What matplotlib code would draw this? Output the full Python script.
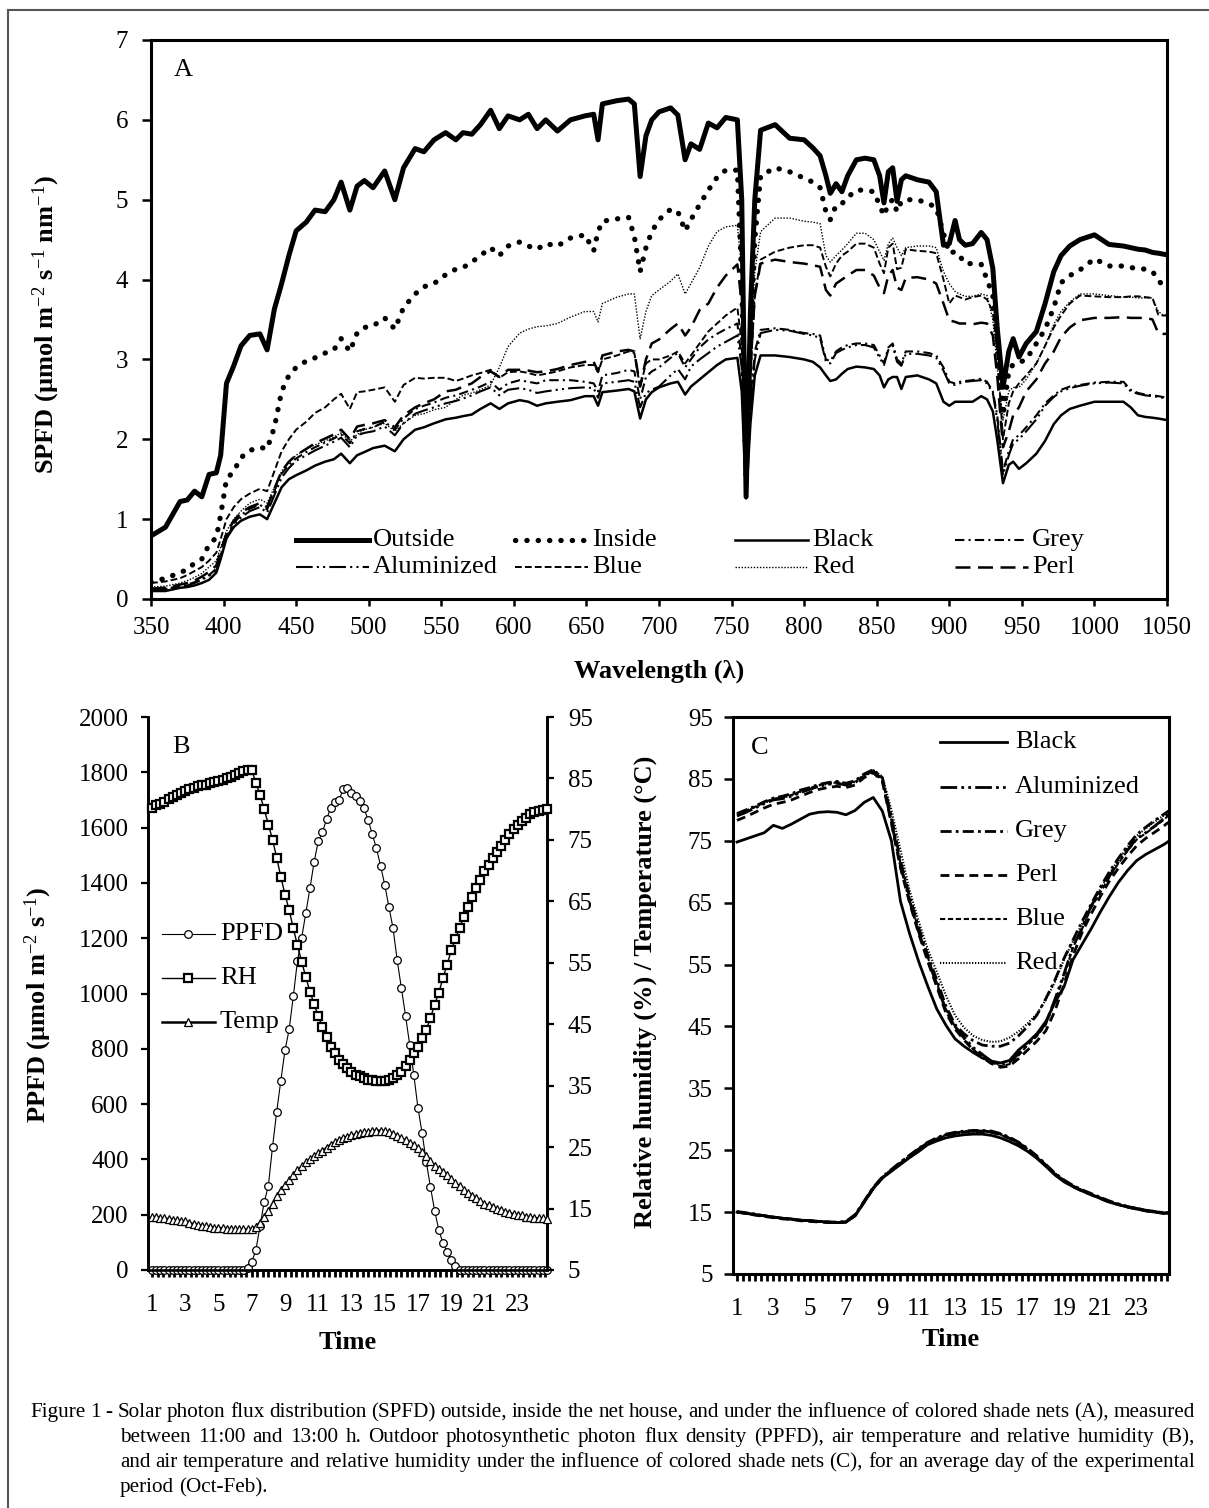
import matplotlib
matplotlib.use('Agg')
import matplotlib.pyplot as plt
import numpy as np
from matplotlib.lines import Line2D
from matplotlib.ticker import MultipleLocator

plt.rcParams['font.family'] = ['Liberation Serif', 'DejaVu Serif']
plt.rcParams['mathtext.fontset'] = 'custom'
plt.rcParams['mathtext.rm'] = 'Liberation Serif'
plt.rcParams['mathtext.bf'] = 'Liberation Serif:bold'
plt.rcParams['mathtext.it'] = 'Liberation Serif:italic'

# ---------------- Panel A data ----------------
wavelength = [
    350, 360, 370, 375, 380, 385, 390, 395, 398, 402,
    407, 412, 418, 425, 430, 435, 440, 445, 450, 457,
    463, 470, 476, 481, 487, 492, 497, 503, 511, 518,
    524, 532, 538, 545, 553, 560, 565, 571, 577, 584,
    590, 596, 604, 610, 616, 622, 630, 639, 649, 655,
    658, 661, 671, 679, 683, 687, 691, 695, 700, 708,
    713, 718, 722, 728, 734, 740, 746, 754, 757, 760,
    763, 766, 770, 780, 790, 800, 806, 811, 815, 818,
    822, 826, 830, 836, 842, 848, 852, 855, 858, 861,
    864, 867, 870, 878, 886, 891, 896, 900, 904, 907,
    911, 916, 922, 926, 930, 933, 937, 941, 944, 948,
    953, 960, 966, 972, 977, 983, 990, 1000, 1010, 1020,
    1025, 1030, 1035, 1040, 1044, 1047, 1050]

outside = [
    0.79, 0.9, 1.22, 1.24, 1.35, 1.28, 1.56, 1.58, 1.8, 2.7,
    2.92, 3.17, 3.3, 3.32, 3.12, 3.63, 3.95, 4.3, 4.61, 4.72,
    4.87, 4.85, 5.0, 5.22, 4.87, 5.17, 5.24, 5.15, 5.36, 5.0,
    5.4, 5.64, 5.6, 5.75, 5.84, 5.75, 5.84, 5.82, 5.94, 6.12,
    5.89, 6.05, 6.0, 6.07, 5.89, 6.0, 5.86, 6.0, 6.05, 6.07,
    5.75, 6.2, 6.24, 6.26, 6.2, 5.29, 5.8, 6.0, 6.1, 6.15,
    6.06, 5.5, 5.7, 5.63, 5.96, 5.9, 6.03, 6.0, 5.0, 1.28,
    3.6, 5.0, 5.87, 5.94, 5.77, 5.75, 5.65, 5.55, 5.3, 5.08,
    5.2, 5.1, 5.3, 5.5, 5.52, 5.5, 5.3, 4.96, 5.35, 5.4,
    4.98, 5.25, 5.3, 5.25, 5.22, 5.1, 4.43, 4.45, 4.74, 4.5,
    4.43, 4.45, 4.59, 4.5, 4.14, 3.4, 2.65, 3.1, 3.26, 3.03,
    3.2, 3.35, 3.7, 4.1, 4.3, 4.42, 4.5, 4.56, 4.44, 4.42,
    4.4, 4.38, 4.37, 4.34, 4.33, 4.32, 4.31]

inside = [
    0.21, 0.26, 0.33, 0.37, 0.45, 0.5, 0.68, 0.77, 1.05, 1.5,
    1.6, 1.77, 1.86, 1.9, 1.88, 2.15, 2.6, 2.8, 2.9, 2.98,
    3.02, 3.08, 3.12, 3.26, 3.1, 3.33, 3.4, 3.42, 3.52, 3.38,
    3.65, 3.82, 3.91, 3.95, 4.06, 4.13, 4.15, 4.22, 4.3, 4.4,
    4.3, 4.42, 4.47, 4.42, 4.38, 4.45, 4.42, 4.52, 4.56, 4.36,
    4.6, 4.73, 4.76, 4.78, 4.54, 4.1, 4.4, 4.6, 4.75, 4.88,
    4.85, 4.61, 4.75, 4.94, 5.12, 5.28, 5.37, 5.37, 4.0, 1.5,
    3.2, 4.5, 5.3, 5.4, 5.35, 5.27, 5.22, 5.15, 4.85, 4.75,
    4.93, 4.95, 5.03, 5.12, 5.12, 5.1, 4.93, 4.8, 4.95, 5.0,
    4.85, 4.98, 5.0, 5.0, 4.95, 4.9, 4.58, 4.33, 4.35, 4.3,
    4.2, 4.2, 4.19, 4.0, 3.8, 3.3, 2.3, 2.85, 2.94, 2.96,
    3.0, 3.2, 3.38, 3.65, 3.96, 4.05, 4.12, 4.26, 4.17, 4.17,
    4.15, 4.14, 4.13, 4.1, 4.0, 3.92, 3.87]

black = [
    0.1, 0.1, 0.14, 0.15, 0.17, 0.2, 0.24, 0.33, 0.5, 0.76,
    0.9, 0.98, 1.03, 1.06, 1.0, 1.2, 1.4, 1.5, 1.55, 1.61,
    1.67, 1.72, 1.75, 1.82, 1.7, 1.8, 1.84, 1.89, 1.92, 1.85,
    2.0, 2.12, 2.15, 2.2, 2.25, 2.27, 2.29, 2.31, 2.38, 2.45,
    2.38, 2.45, 2.49, 2.47, 2.42, 2.45, 2.47, 2.49, 2.54, 2.54,
    2.42, 2.59, 2.61, 2.63, 2.6, 2.26, 2.5, 2.59, 2.65, 2.7,
    2.72, 2.56, 2.66, 2.75, 2.84, 2.93, 3.0, 3.02, 2.6, 1.26,
    2.2, 2.8, 3.05, 3.05, 3.03, 3.0, 2.97, 2.9, 2.8, 2.73,
    2.75, 2.82, 2.88, 2.91, 2.9, 2.88, 2.8, 2.65, 2.75, 2.78,
    2.78, 2.63, 2.78, 2.8, 2.75, 2.7, 2.47, 2.42, 2.47, 2.47,
    2.47, 2.47, 2.54, 2.5, 2.35, 2.0, 1.45, 1.68, 1.72, 1.63,
    1.7, 1.82, 1.98, 2.19, 2.3, 2.38, 2.42, 2.47, 2.47, 2.47,
    2.4, 2.3, 2.28, 2.27, 2.26, 2.25, 2.24]

grey = [
    0.12, 0.13, 0.16, 0.18, 0.21, 0.25, 0.3, 0.38, 0.55, 0.78,
    0.95, 1.05, 1.13, 1.18, 1.12, 1.35, 1.57, 1.68, 1.76, 1.84,
    1.9, 1.96, 2.01, 2.06, 1.95, 2.1, 2.13, 2.15, 2.22, 2.12,
    2.26, 2.38, 2.42, 2.46, 2.52, 2.55, 2.58, 2.62, 2.66, 2.72,
    2.62, 2.7, 2.74, 2.72, 2.7, 2.74, 2.74, 2.74, 2.72, 2.7,
    2.6, 2.8, 2.83, 2.87, 2.85, 2.5, 2.78, 2.85, 2.9, 3.02,
    3.08, 2.9, 3.0, 3.15, 3.25, 3.32, 3.38, 3.45, 3.0, 1.33,
    2.5, 3.1, 3.37, 3.39, 3.37, 3.33, 3.32, 3.3, 3.0, 2.98,
    3.1, 3.15, 3.18, 3.2, 3.2, 3.18, 3.05, 2.95, 3.15, 3.2,
    3.0, 2.95, 3.1, 3.1, 3.08, 3.05, 2.9, 2.72, 2.7, 2.72,
    2.73, 2.74, 2.76, 2.72, 2.6, 2.3, 1.6, 1.85, 2.0, 2.05,
    2.15, 2.3, 2.45, 2.55, 2.62, 2.66, 2.68, 2.71, 2.72, 2.72,
    2.62, 2.58, 2.56, 2.55, 2.54, 2.53, 2.52]

aluminized = [
    0.11, 0.12, 0.15, 0.17, 0.2, 0.24, 0.29, 0.36, 0.52, 0.76,
    0.93, 1.02, 1.1, 1.15, 1.08, 1.3, 1.52, 1.64, 1.73, 1.8,
    1.86, 1.92, 1.97, 2.02, 1.9, 2.05, 2.08, 2.1, 2.16, 2.05,
    2.2, 2.32, 2.36, 2.4, 2.45, 2.48, 2.51, 2.55, 2.6, 2.65,
    2.55, 2.62, 2.64, 2.62, 2.58, 2.6, 2.62, 2.64, 2.65, 2.64,
    2.52, 2.7, 2.72, 2.74, 2.72, 2.4, 2.58, 2.62, 2.66, 2.8,
    2.88, 2.75, 2.91, 3.0, 3.08, 3.16, 3.22, 3.3, 2.9, 1.3,
    2.4, 3.0, 3.33, 3.37, 3.36, 3.32, 3.3, 3.27, 2.97, 2.95,
    3.08, 3.12, 3.15, 3.18, 3.18, 3.15, 3.02, 2.93, 3.12, 3.17,
    2.97, 2.92, 3.07, 3.07, 3.05, 3.02, 2.86, 2.7, 2.68, 2.7,
    2.72, 2.73, 2.74, 2.7, 2.58, 2.25, 1.55, 1.8, 1.95, 2.0,
    2.1, 2.25, 2.42, 2.53, 2.6, 2.64, 2.67, 2.7, 2.71, 2.7,
    2.6, 2.57, 2.55, 2.54, 2.53, 2.52, 2.51]

blue = [
    0.2, 0.22, 0.26, 0.3, 0.35, 0.4, 0.48, 0.58, 0.75, 1.0,
    1.15, 1.25, 1.32, 1.38, 1.35, 1.6, 1.85, 2.0, 2.12, 2.22,
    2.33, 2.4, 2.5, 2.57, 2.38, 2.59, 2.6, 2.62, 2.65, 2.47,
    2.68, 2.77, 2.76, 2.77, 2.77, 2.73, 2.76, 2.8, 2.83, 2.87,
    2.77, 2.84, 2.85, 2.83, 2.8, 2.82, 2.85, 2.9, 2.93, 2.93,
    2.84, 3.0, 3.05, 3.1, 3.08, 2.65, 2.95, 3.0, 3.0, 3.05,
    3.1, 2.95, 3.05, 3.2, 3.35, 3.45, 3.55, 3.65, 3.2, 1.4,
    2.8, 3.8, 4.25, 4.35, 4.4, 4.43, 4.43, 4.4, 4.16, 4.04,
    4.2, 4.3, 4.35, 4.45, 4.45, 4.4, 4.2, 4.08, 4.4, 4.45,
    4.13, 4.15, 4.38, 4.36, 4.35, 4.33, 4.0, 3.7, 3.8, 3.78,
    3.75, 3.78, 3.8, 3.75, 3.6, 3.1, 2.0, 2.45, 2.6, 2.7,
    2.8, 2.95, 3.17, 3.4, 3.55, 3.7, 3.8, 3.79, 3.78, 3.78,
    3.79, 3.79, 3.78, 3.77, 3.56, 3.55, 3.55]

red = [
    0.15, 0.16, 0.2, 0.23, 0.27, 0.32, 0.4, 0.48, 0.65, 0.85,
    1.0, 1.1, 1.2, 1.25, 1.2, 1.4, 1.6, 1.72, 1.8, 1.88,
    1.93, 1.98, 2.03, 2.08, 1.97, 2.06, 2.12, 2.15, 2.2, 2.1,
    2.2, 2.3, 2.32, 2.37, 2.4, 2.5, 2.55, 2.58, 2.62, 2.68,
    2.9, 3.16, 3.33, 3.38, 3.41, 3.42, 3.45, 3.53, 3.6, 3.6,
    3.47, 3.7, 3.78, 3.82, 3.82, 3.26, 3.6, 3.8, 3.87, 3.98,
    4.07, 3.82, 3.95, 4.15, 4.42, 4.6, 4.66, 4.68, 4.1, 1.45,
    3.0, 4.1, 4.6, 4.77, 4.77, 4.73, 4.72, 4.7, 4.3, 4.22,
    4.3, 4.37, 4.45, 4.58, 4.58, 4.5, 4.35, 4.24, 4.45, 4.52,
    4.4, 4.3, 4.4, 4.42, 4.42, 4.4, 4.1, 3.95, 3.85, 3.82,
    3.79, 3.79, 3.82, 3.8, 3.5, 2.9, 2.24, 2.6, 2.65, 2.65,
    2.75, 2.95, 3.17, 3.44, 3.6, 3.72, 3.82, 3.82, 3.8, 3.78,
    3.78, 3.77, 3.77, 3.77, 3.6, 3.56, 3.55]

perl = [
    0.13, 0.14, 0.18, 0.2, 0.23, 0.28, 0.34, 0.42, 0.6, 0.82,
    0.98, 1.08, 1.15, 1.2, 1.15, 1.38, 1.6, 1.72, 1.8, 1.88,
    1.95, 2.01, 2.06, 2.12, 2.0, 2.16, 2.18, 2.2, 2.24, 2.15,
    2.3, 2.4, 2.45, 2.5, 2.6, 2.62, 2.66, 2.7, 2.78, 2.85,
    2.78, 2.87, 2.87, 2.86, 2.84, 2.85, 2.88, 2.93, 2.97, 2.97,
    2.85, 3.05, 3.1, 3.12, 3.1, 2.66, 3.0, 3.2, 3.25, 3.38,
    3.45, 3.3, 3.4, 3.62, 3.7, 3.9, 4.05, 4.19, 3.7, 1.35,
    2.9, 3.8, 4.2, 4.25, 4.22, 4.2, 4.18, 4.16, 3.87, 3.8,
    3.95, 4.0, 4.05, 4.12, 4.12, 4.05, 3.9, 3.83, 4.05, 4.12,
    3.9, 3.87, 4.02, 4.03, 4.0, 3.95, 3.7, 3.49, 3.47, 3.45,
    3.45, 3.44, 3.46, 3.45, 3.3, 2.8, 1.9, 2.1, 2.3, 2.4,
    2.6, 2.75, 2.95, 3.1, 3.28, 3.4, 3.49, 3.52, 3.52, 3.53,
    3.52, 3.52, 3.52, 3.5, 3.33, 3.32, 3.32]

# ---------------- Panel B data (every 15 min, hour 1 to 24.75) ----------------
time_b = np.arange(1, 25, 0.25)
ppfd = [
    0, 0, 0, 0, 0, 0, 0, 0,
    0, 0, 0, 0, 0, 0, 0, 0,
    0, 0, 0, 0, 0, 0, 0, 8,
    30, 72, 160, 245, 305, 445, 572, 685,
    795, 870, 990, 1118, 1200, 1290, 1380, 1475,
    1550, 1583, 1630, 1672, 1694, 1700, 1738, 1743,
    1724, 1713, 1698, 1670, 1628, 1576, 1525, 1462,
    1393, 1313, 1236, 1120, 1020, 920, 815, 705,
    585, 495, 390, 300, 215, 145, 98, 66,
    37, 14, 0, 0, 0, 0, 0, 0,
    0, 0, 0, 0, 0, 0, 0, 0,
    0, 0, 0, 0, 0, 0, 0, 0]
rh_out = [
    80.2, 80.6, 80.9, 81.2, 81.6, 81.9, 82.3, 82.6,
    83.0, 83.3, 83.5, 83.7, 83.9, 84.0, 84.2, 84.4,
    84.6, 84.8, 85.0, 85.3, 85.6, 85.9, 86.2, 86.4,
    86.4, 84.3, 82.3, 80.0, 77.5, 75.05, 72.1, 69.0,
    66.1, 63.6, 60.6, 57.85, 55.2, 52.7, 50.3, 48.3,
    46.3, 44.55, 42.9, 41.3, 40.3, 39.25, 38.6, 37.9,
    37.3, 36.8, 36.5, 36.3, 36.0, 35.95, 35.8, 35.7,
    35.8, 36.0, 36.3, 36.8, 37.3, 38.2, 39.25, 40.3,
    41.3, 42.7, 44.1, 46.0, 48.2, 50.1, 52.5, 54.7,
    57.0, 58.9, 60.7, 62.5, 64.0, 65.75, 67.1, 68.5,
    69.9, 70.9, 72.0, 73.0, 74.0, 75.05, 75.9, 76.8,
    77.5, 78.1, 78.6, 79.2, 79.5, 79.7, 79.9, 80.1]
temp_out = [
    13.7, 13.6, 13.5, 13.4, 13.3, 13.2, 13.1, 13.0,
    12.9, 12.7, 12.5, 12.3, 12.2, 12.1, 12.0, 11.9,
    11.8, 11.8, 11.7, 11.7, 11.6, 11.6, 11.6, 11.6,
    11.7, 12.0, 12.6, 13.6, 14.6, 15.8, 17.0, 18.0,
    18.8, 19.6, 20.4, 21.2, 21.9, 22.5, 23.0, 23.6,
    24.0, 24.4, 24.9, 25.4, 25.8, 26.2, 26.5, 26.7,
    26.9, 27.1, 27.3, 27.4, 27.5, 27.6, 27.7, 27.7,
    27.6, 27.4, 27.1, 26.8, 26.5, 26.1, 25.7, 25.3,
    24.8, 24.2, 23.5, 22.8, 22.0, 21.5, 20.9, 20.4,
    19.8, 19.2, 18.6, 18.0, 17.5, 17.1, 16.7, 16.2,
    15.8, 15.5, 15.2, 14.9, 14.7, 14.5, 14.3, 14.1,
    14.0, 13.9, 13.7, 13.6, 13.5, 13.4, 13.4, 13.3]

# ---------------- Panel C data (every 30 min) ----------------
time_c = [1, 1.5, 2, 2.5, 3, 3.5, 4, 4.5,
          5, 5.5, 6, 6.5, 7, 7.5, 8, 8.5,
          9, 9.5, 10, 10.5, 11, 11.5, 12, 12.5,
          13, 13.5, 14, 14.5, 15, 15.5, 16, 16.5,
          17, 17.5, 18, 18.5, 19, 19.5, 20, 20.5,
          21, 21.5, 22, 22.5, 23, 23.5, 24, 24.5, 24.75]
rh_black = [74.8, 75.3, 75.8, 76.3, 77.5, 77.0, 77.7, 78.5,
            79.3, 79.6, 79.7, 79.6, 79.2, 79.9, 81.2, 82.0,
            79.8, 75.0, 65.2, 60.0, 55.5, 51.5, 47.8, 45.2,
            43.0, 41.8, 40.8, 39.9, 39.4, 39.1, 39.5, 41.2,
            42.4, 43.8, 45.8, 48.9, 51.4, 55.8, 58.3, 60.8,
            63.5, 66.0, 68.3, 70.2, 71.8, 72.8, 73.6, 74.4, 74.9]
rh_alum = [79.0, 79.6, 80.3, 81.0, 81.6, 81.8, 82.2, 82.8,
           83.3, 83.8, 84.1, 84.3, 84.0, 84.4, 85.5, 86.3,
           84.8, 78.0, 71.0, 65.3, 60.3, 55.8, 51.8, 47.5,
           45.0, 43.3, 41.6, 40.5, 39.4, 38.8, 39.2, 40.6,
           42.3, 43.6, 45.5, 49.4, 53.5, 58.0, 60.9, 64.5,
           66.9, 69.3, 71.6, 73.5, 75.4, 76.3, 77.4, 78.6, 79.4]
rh_grey = [79.4, 80.0, 80.6, 81.3, 81.9, 82.2, 82.6, 83.2,
           83.6, 84.1, 84.4, 84.6, 84.3, 84.7, 85.8, 86.5,
           85.2, 78.8, 71.8, 66.0, 61.0, 56.5, 52.5, 48.3,
           45.3, 43.8, 42.7, 42.0, 41.8, 41.8, 42.3, 43.5,
           45.0, 46.8, 49.5, 52.5, 56.0, 59.0, 62.0, 64.8,
           67.5, 70.0, 72.2, 74.2, 76.0, 77.2, 78.3, 79.3, 79.8]
rh_perl = [78.3, 78.9, 79.6, 80.3, 80.9, 81.2, 81.6, 82.2,
           82.8, 83.3, 83.6, 83.8, 83.6, 84.0, 85.2, 86.0,
           84.6, 77.8, 70.6, 65.0, 60.0, 55.5, 51.4, 47.2,
           44.6, 42.8, 41.2, 40.0, 39.0, 38.4, 38.6, 39.8,
           41.2, 42.6, 44.3, 47.5, 51.8, 56.5, 60.2, 63.2,
           66.0, 68.5, 70.6, 72.5, 74.2, 75.4, 76.4, 77.4, 78.0]
rh_blue = [79.3, 79.9, 80.5, 81.2, 81.8, 82.0, 82.4, 83.0,
           83.5, 84.0, 84.3, 84.5, 84.2, 84.6, 85.6, 86.3,
           85.0, 78.4, 71.4, 65.6, 60.6, 56.2, 52.0, 47.8,
           45.0, 43.0, 41.3, 40.2, 39.2, 38.6, 38.9, 40.3,
           42.0, 43.4, 45.3, 49.0, 53.2, 57.8, 60.8, 64.2,
           66.7, 69.1, 71.4, 73.4, 75.2, 76.2, 77.3, 78.4, 79.1]
rh_red = [79.2, 79.8, 80.4, 81.1, 81.7, 81.9, 82.3, 82.9,
          83.4, 83.9, 84.2, 84.4, 84.1, 84.5, 85.6, 86.4,
          85.4, 80.0, 73.5, 67.0, 62.0, 57.5, 53.8, 50.0,
          46.8, 44.8, 43.5, 42.8, 42.5, 42.6, 43.2, 44.2,
          45.5, 47.0, 49.3, 52.2, 55.8, 58.8, 61.6, 64.5,
          67.2, 69.7, 72.0, 74.0, 75.8, 77.0, 78.1, 79.1, 79.7]
t_black = [15.0, 14.8, 14.6, 14.4, 14.2, 14.0, 13.85, 13.7,
           13.6, 13.5, 13.4, 13.3, 13.4, 14.4, 16.6, 18.8,
           20.5, 21.6, 22.7, 23.8, 24.8, 25.9, 26.5, 27.0,
           27.3, 27.5, 27.6, 27.6, 27.4, 27.0, 26.4, 25.7,
           24.8, 23.7, 22.4, 21.0, 19.9, 19.1, 18.4, 17.8,
           17.2, 16.6, 16.2, 15.8, 15.5, 15.2, 15.0, 14.8, 14.8]
t_alum = [15.0, 14.8, 14.6, 14.4, 14.2, 14.0, 13.9, 13.7,
          13.6, 13.5, 13.4, 13.3, 13.4, 14.5, 16.7, 18.9,
          20.6, 21.8, 23.0, 24.1, 25.2, 26.2, 26.9, 27.5,
          27.8, 28.0, 28.1, 28.1, 28.0, 27.6, 27.0, 26.2,
          25.2, 24.0, 22.6, 21.2, 20.1, 19.2, 18.5, 17.9,
          17.3, 16.7, 16.3, 15.9, 15.6, 15.3, 15.1, 14.9, 14.9]
t_grey = [15.1, 14.9, 14.7, 14.4, 14.2, 14.0, 13.9, 13.7,
          13.6, 13.5, 13.4, 13.4, 13.5, 14.6, 16.8, 19.0,
          20.7, 21.9, 23.1, 24.2, 25.3, 26.3, 27.0, 27.6,
          27.9, 28.1, 28.2, 28.2, 28.1, 27.7, 27.1, 26.3,
          25.3, 24.1, 22.7, 21.3, 20.2, 19.3, 18.6, 18.0,
          17.4, 16.8, 16.3, 15.9, 15.6, 15.3, 15.1, 14.9, 14.9]
t_perl = [15.0, 14.8, 14.5, 14.3, 14.1, 13.9, 13.8, 13.6,
          13.5, 13.4, 13.3, 13.3, 13.4, 14.4, 16.6, 18.8,
          20.5, 21.7, 22.9, 24.0, 25.1, 26.1, 26.8, 27.4,
          27.7, 27.9, 28.0, 28.0, 27.9, 27.5, 26.9, 26.1,
          25.1, 23.9, 22.5, 21.1, 20.0, 19.1, 18.4, 17.8,
          17.2, 16.6, 16.2, 15.8, 15.5, 15.2, 15.0, 14.8, 14.8]
t_blue = [15.0, 14.8, 14.6, 14.4, 14.2, 14.0, 13.8, 13.7,
          13.6, 13.5, 13.4, 13.3, 13.4, 14.5, 16.7, 18.9,
          20.6, 21.8, 22.9, 24.0, 25.1, 26.1, 26.8, 27.4,
          27.7, 27.9, 28.0, 28.0, 27.9, 27.5, 26.9, 26.1,
          25.1, 23.9, 22.6, 21.2, 20.1, 19.2, 18.5, 17.9,
          17.3, 16.7, 16.3, 15.9, 15.6, 15.3, 15.1, 14.9, 14.9]
t_red = [15.0, 14.8, 14.6, 14.4, 14.2, 14.0, 13.9, 13.7,
         13.6, 13.5, 13.4, 13.3, 13.4, 14.5, 16.7, 18.9,
         20.6, 21.8, 23.0, 24.1, 25.2, 26.2, 26.9, 27.5,
         27.8, 28.0, 28.1, 28.1, 28.0, 27.6, 27.0, 26.2,
         25.2, 24.0, 22.6, 21.2, 20.1, 19.2, 18.5, 17.9,
         17.3, 16.7, 16.3, 15.9, 15.6, 15.3, 15.1, 14.9, 14.9]

caption_lines = [
    "Figure 1 - Solar photon flux distribution (SPFD) outside, inside the net house, and under the influence of colored shade nets (A), measured",
    "between 11:00 and 13:00 h. Outdoor photosynthetic photon flux density (PPFD), air temperature and relative humidity (B),",
    "and air temperature and relative humidity under the influence of colored shade nets (C), for an average day of the experimental",
    "period (Oct-Feb).",
]

# ---------------- Figure ----------------
W, H = 1209, 1508
fig = plt.figure(figsize=(W / 100, H / 100), dpi=100)
fig.patch.set_facecolor('white')


def fx(x):
    return x / W


def fy(y):
    return 1 - y / H


def axes_px(l, t, r, b):
    return fig.add_axes([fx(l), fy(b), (r - l) / W, (b - t) / H])


TICK = 18
LEG = 19

# Styles for panel A
stA = {
    'Outside': dict(lw=3.6, ls='-'),
    'Inside': dict(lw=3.8, ls=(0, (0.05, 2.1)), dash_capstyle='round'),
    'Black': dict(lw=1.8, ls='-'),
    'Grey': dict(lw=1.5, ls=(0, (4.5, 2, 1, 2))),
    'Aluminized': dict(lw=1.5, ls=(0, (8, 2, 1, 2, 1, 2))),
    'Blue': dict(lw=1.4, ls=(0, (3.5, 1.6))),
    'Red': dict(lw=1.0, ls=(0, (1, 1.2))),
    'Perl': dict(lw=1.8, ls=(0, (6, 3))),
}
seriesA = {'Outside': outside, 'Inside': inside, 'Black': black, 'Grey': grey,
           'Aluminized': aluminized, 'Blue': blue, 'Red': red, 'Perl': perl}
for k, v in seriesA.items():
    assert len(v) == len(wavelength), k

axA = axes_px(151, 40, 1167, 599)
for name in ['Red', 'Perl', 'Blue', 'Grey', 'Aluminized', 'Black', 'Inside', 'Outside']:
    axA.plot(wavelength, seriesA[name], color='black', solid_joinstyle='round', **stA[name])
axA.set_xlim(350, 1050)
axA.set_ylim(0, 7)
axA.set_xticks(range(350, 1051, 50))
axA.set_yticks(range(0, 8))
axA.tick_params(axis='y', direction='out', length=6.5, width=1.8, labelsize=TICK, pad=10)
axA.tick_params(axis='x', direction='out', length=5, width=1.8, labelsize=TICK, pad=8)
for s in axA.spines.values():
    s.set_linewidth(2.2)
axA.set_xlabel('Wavelength (λ)', fontsize=19, fontweight='bold')
axA.xaxis.set_label_coords(0.5, -0.109)
axA.set_ylabel(r'SPFD (µmol m$^{-2}$ s$^{-1}$ nm$^{-1}$)', fontsize=19, fontweight='bold')
axA.yaxis.set_label_coords(-0.0876, 0.49)
axA.text(0.022, 0.947, 'A', transform=axA.transAxes, fontsize=19, va='center', ha='left')

# Legend A (manual grid with fixed column widths)
legA = [('Outside', 296, 540), ('Inside', 515, 540), ('Black', 735, 540), ('Grey', 955, 540),
        ('Aluminized', 296, 567), ('Blue', 515, 567), ('Red', 735, 567), ('Perl', 955, 567)]
for name, x0, y0 in legA:
    fig.add_artist(Line2D([fx(x0), fx(x0 + 73)], [fy(y0), fy(y0)], transform=fig.transFigure,
                          color='black', **stA[name]))
    fig.text(fx(x0 + 77), fy(y0), name, fontsize=LEG, va='center', ha='left')

# ---------------- Panel B ----------------
axB = axes_px(148, 717, 547, 1270)
axB2 = axB.twinx()
axB.plot(time_b, ppfd, color='black', lw=0.8, marker='o', ms=5.5, mfc='white', mec='black',
         mew=0.9, clip_on=False, zorder=3)
axB2.plot(time_b, rh_out, color='black', lw=1.0, marker='s', ms=6.2, mfc='white', mec='black',
          mew=1.6, clip_on=False, zorder=4)
axB2.plot(time_b, temp_out, color='black', lw=1.6, marker='^', ms=5.5, mfc='white', mec='black',
          mew=0.9, clip_on=False, zorder=4)
axB.set_xlim(0.76, 24.76)
axB.set_ylim(0, 2000)
axB2.set_ylim(5, 95)
axB.set_yticks(range(0, 2001, 200))
axB2.set_yticks(range(5, 96, 10))
axB.set_xticks(range(1, 24, 2))
axB.xaxis.set_minor_locator(MultipleLocator(1 / 3))
axB.tick_params(axis='x', which='both', direction='out', length=5, width=2.0, labelsize=TICK, pad=12)
axB.tick_params(axis='y', direction='out', length=5, width=1.6, labelsize=TICK, pad=9)
axB2.tick_params(axis='y', direction='out', length=5, width=1.6, labelsize=TICK, pad=10)
for a in (axB, axB2):
    a.spines['top'].set_visible(False)
    for s in ('left', 'right', 'bottom'):
        a.spines[s].set_linewidth(1.9)
axB.set_xlabel('Time', fontsize=19, fontweight='bold')
axB.xaxis.set_label_coords(0.501, -0.110)
axB.set_ylabel(r'PPFD (µmol m$^{-2}$ s$^{-1}$)', fontsize=19, fontweight='bold')
axB.yaxis.set_label_coords(-0.236, 0.479)
axB.text(0.06, 0.945, 'B', transform=axB.transAxes, fontsize=19, va='center', ha='left')

legB = [('PPFD', 934, dict(lw=0.8, marker='o', ms=5.5, mew=0.9)),
        ('RH', 978, dict(lw=1.0, marker='s', ms=6.2, mew=1.6)),
        ('Temp', 1022, dict(lw=1.8, marker='^', ms=5.5, mew=0.9))]
for name, y0, kw in legB:
    lw = kw.pop('lw')
    fig.add_artist(Line2D([fx(162), fx(215)], [fy(y0), fy(y0)], transform=fig.transFigure,
                          color='black', lw=lw))
    fig.add_artist(Line2D([fx(188)], [fy(y0)], transform=fig.transFigure, color='black',
                          mfc='white', mec='black', ls='none', **kw))
    fig.text(fx(220), fy(y0), name, fontsize=LEG, va='center', ha='left')

# ---------------- Panel C ----------------
stC = {
    'Black': dict(lw=2.0, ls='-'),
    'Aluminized': dict(lw=2.0, ls=(0, (6, 1.5, 1, 1.5, 1, 1.5))),
    'Grey': dict(lw=2.0, ls=(0, (4, 1.5, 1, 1.5))),
    'Perl': dict(lw=2.0, ls=(0, (3.2, 2))),
    'Blue': dict(lw=1.5, ls=(0, (2.5, 1.3))),
    'Red': dict(lw=1.5, ls=(0, (0.6, 0.8))),
}
rhC = {'Black': rh_black, 'Aluminized': rh_alum, 'Grey': rh_grey, 'Perl': rh_perl,
       'Blue': rh_blue, 'Red': rh_red}
tC = {'Black': t_black, 'Aluminized': t_alum, 'Grey': t_grey, 'Perl': t_perl,
      'Blue': t_blue, 'Red': t_red}
for k in rhC:
    assert len(rhC[k]) == len(time_c), k
    assert len(tC[k]) == len(time_c), k

axC = axes_px(733, 717, 1169, 1274)
for name in ['Red', 'Blue', 'Perl', 'Grey', 'Aluminized', 'Black']:
    axC.plot(time_c, rhC[name], color='black', **stC[name])
    axC.plot(time_c, tC[name], color='black', **stC[name])
axC.set_xlim(0.78, 24.78)
axC.set_ylim(5, 95)
axC.set_yticks(range(5, 96, 10))
axC.set_xticks(range(1, 24, 2))
axC.xaxis.set_minor_locator(MultipleLocator(1 / 3))
axC.tick_params(axis='x', which='both', direction='out', length=5, width=2.0, labelsize=TICK, pad=12)
axC.tick_params(axis='y', direction='out', length=6.5, width=1.8, labelsize=TICK, pad=8)
for s in axC.spines.values():
    s.set_linewidth(2.2)
axC.set_xlabel('Time', fontsize=19, fontweight='bold')
axC.xaxis.set_label_coords(0.498, -0.097)
axC.set_ylabel('Relative humidity (%) / Temperature (°C)', fontsize=19, fontweight='bold')
axC.yaxis.set_label_coords(-0.174, 0.506)
axC.text(0.04, 0.945, 'C', transform=axC.transAxes, fontsize=19, va='center', ha='left')

legC = [('Black', 742), ('Aluminized', 787), ('Grey', 831), ('Perl', 875), ('Blue', 919), ('Red', 963)]
for name, y0 in legC:
    fig.add_artist(Line2D([fx(940), fx(1007)], [fy(y0), fy(y0)], transform=fig.transFigure,
                          color='black', **stC[name]))
    fig.text(fx(1015), fy(y0), name, fontsize=LEG, va='center', ha='left')

# ---------------- Caption (justified) ----------------
renderer = fig.canvas.get_renderer()
CAP = 15.2


def justified(text, x0, x1, ybase, size=CAP, justify=True):
    words = text.split(' ')
    objs = [fig.text(0, fy(ybase), w, fontsize=size, va='baseline', ha='left') for w in words]
    widths = [o.get_window_extent(renderer).width for o in objs]
    if justify and len(words) > 1:
        gap = ((x1 - x0) - sum(widths)) / (len(words) - 1)
    else:
        sp = fig.text(0, 0, 'a a', fontsize=size)
        sp2 = fig.text(0, 0, 'aa', fontsize=size)
        gap = sp.get_window_extent(renderer).width - sp2.get_window_extent(renderer).width
        sp.remove()
        sp2.remove()
    x = x0
    for o, w in zip(objs, widths):
        o.set_x(fx(x))
        x += w + gap


justified(caption_lines[0], 30, 1195, 1417)
justified(caption_lines[1], 120, 1195, 1442)
justified(caption_lines[2], 120, 1195, 1467)
justified(caption_lines[3], 120, 1195, 1492, justify=False)

# Outer frame (top and left edges)
fig.add_artist(Line2D([fx(8), 1.0], [fy(10), fy(10)], transform=fig.transFigure, color='#555555', lw=1.5))
fig.add_artist(Line2D([fx(8), fx(8)], [fy(10), 0.0], transform=fig.transFigure, color='#555555', lw=1.5))

fig.savefig('out.png', dpi=100, facecolor='white')
